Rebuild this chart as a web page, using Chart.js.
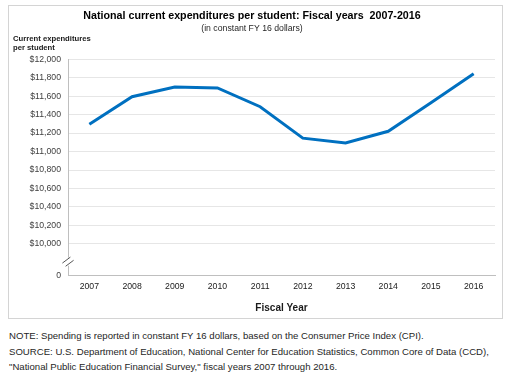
<!DOCTYPE html>
<html>
<head>
<meta charset="utf-8">
<script src="https://cdn.jsdelivr.net/npm/chart.js@4"></script>
<style>
  body { margin: 0; background: #fff; font-family: "Liberation Sans", Arial, sans-serif; }
  #box { position: absolute; left: 8px; top: 5px; width: 493px; height: 312px; border: 1px solid #d4d4d4; }
  #box canvas { position: absolute; left: 0; top: 0; }
  #notes { position: absolute; left: 9px; top: 328px; font-size: 9.6px; line-height: 15.5px; color: #262626; white-space: nowrap; }
</style>
</head>
<body>
<div id="box"><canvas id="chart" width="493" height="312"></canvas></div>
<div id="notes">
  NOTE: Spending is reported in constant FY 16 dollars, based on the Consumer Price Index (CPI).<br>
  SOURCE: U.S. Department of Education, National Center for Education Statistics, Common Core of Data (CCD),<br>
  "National Public Education Financial Survey," fiscal years 2007 through 2016.
</div>
<script>
const years = ['2007', '2008', '2009', '2010', '2011', '2012', '2013', '2014', '2015', '2016'];
const spending = [11295, 11594, 11700, 11690, 11486, 11145, 11092, 11220, 11530, 11843];
// axis is broken: the "0" tick sits a bit under $10,000
const zeroSpot = 9656;
const yTicks = [zeroSpot, 10000, 10200, 10400, 10600, 10800, 11000, 11200, 11400, 11600, 11800, 12000];

const fontFam = '"Liberation Sans", Arial, sans-serif';
const textColor = '#404040';

const extras = {
    id: 'extras',
    afterDraw(chart) {
        const ctx = chart.ctx;
        const area = chart.chartArea;
        const y = chart.scales.y;
        // y axis caption above the ticks
        ctx.save();
        ctx.fillStyle = '#1a1a1a';
        ctx.font = 'bold 7.7px ' + fontFam;
        ctx.textBaseline = 'middle';
        ctx.textAlign = 'left';
        ctx.fillText('Current expenditures', 4, 33);
        ctx.fillText('per student', 4, 42);
        // break marks on the axis
        const by = (y.getPixelForValue(10000) + y.getPixelForValue(zeroSpot)) / 2 + 2;
        const bx = area.left;
        ctx.fillStyle = '#fff';
        ctx.fillRect(bx - 2, by - 4, 4, 8);
        ctx.strokeStyle = '#555';
        ctx.lineWidth = 1;
        for (const d of [-1.6, 1.6]) {
            ctx.beginPath();
            ctx.moveTo(bx - 4 + d, by + 3 + d);
            ctx.lineTo(bx + 4 + d, by - 3 + d);
            ctx.stroke();
        }
        ctx.restore();
    }
};

new Chart(document.getElementById('chart'), {
    type: 'line',
    data: {
        labels: years,
        datasets: [{
            data: spending,
            borderColor: '#0070C0',
            borderWidth: 3,
            pointRadius: 0,
            tension: 0,
            fill: false
        }]
    },
    options: {
        responsive: false,
        animation: false,
        layout: { padding: { left: 0, right: 7, top: 0, bottom: 4 } },
        plugins: {
            legend: { display: false },
            tooltip: { enabled: false },
            title: {
                display: true,
                text: 'National current expenditures per student: Fiscal years  2007-2016',
                color: '#000',
                font: { family: fontFam, size: 10.7, weight: 'bold' },
                padding: { top: 4, bottom: 1 }
            },
            subtitle: {
                display: true,
                text: '(in constant FY 16 dollars)',
                color: '#262626',
                font: { family: fontFam, size: 8.7 },
                padding: { top: 0, bottom: 25 }
            }
        },
        scales: {
            x: {
                offset: true,
                grid: { display: false, drawTicks: false },
                border: { color: '#bfbfbf' },
                ticks: {
                    color: '#1a1a1a',
                    font: { family: fontFam, size: 8.7 },
                    padding: 6,
                    maxRotation: 0
                },
                title: {
                    display: true,
                    text: 'Fiscal Year',
                    color: '#1a1a1a',
                    font: { family: fontFam, size: 10, weight: 'bold' },
                    padding: { top: 4, bottom: 0 }
                }
            },
            y: {
                min: zeroSpot,
                max: 12000,
                afterBuildTicks(scale) {
                    scale.ticks = yTicks.map(v => ({ value: v }));
                },
                afterFit(scale) {
                    scale.width = 59;
                },
                grid: {
                    drawTicks: false,
                    color: ctx => ctx.tick && ctx.tick.value === zeroSpot ? 'rgba(0,0,0,0)' : '#e6e6e6'
                },
                border: { color: '#bfbfbf' },
                ticks: {
                    color: textColor,
                    font: { family: fontFam, size: 8.7 },
                    padding: 7,
                    callback: v => v === zeroSpot ? '0' : '$' + v.toLocaleString('en-US')
                }
            }
        }
    },
    plugins: [extras]
});
</script>
</body>
</html>
